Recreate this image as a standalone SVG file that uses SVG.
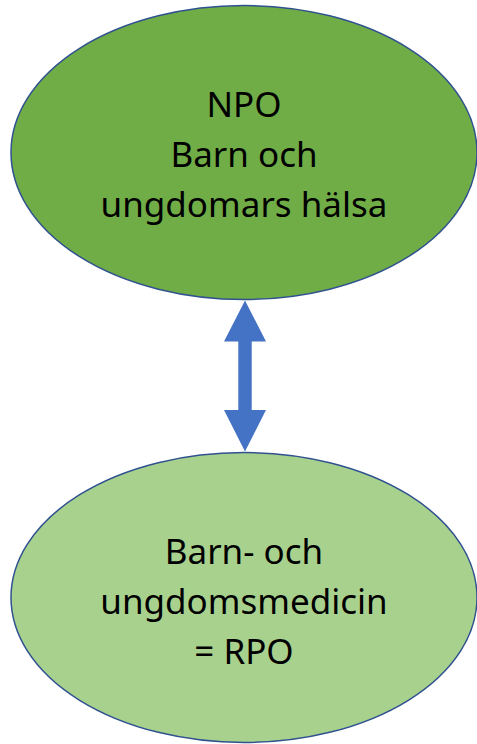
<svg xmlns="http://www.w3.org/2000/svg" width="477" height="744" viewBox="0 0 477 744">
<style>
.node{stroke:#2F528F;stroke-width:1.5}
.lbl{font-family:"Noto Sans","Liberation Sans",sans-serif;font-size:35px;fill:#000;text-anchor:middle}
</style>
<rect width="477" height="744" fill="#fff"/>
<g id="connectors">
<polygon fill="#4472C4" points="245,300.5 266,341.5 251.7,341.5 251.7,410 266,410 245,451.5 224,410 238.3,410 238.3,341.5 224,341.5"/>
</g>
<g id="npo">
<ellipse class="node" cx="244" cy="152.5" rx="233" ry="147" fill="#70AD47"/>
<text class="lbl" x="244" y="116.5">NPO</text>
<text class="lbl" x="244" y="166.5">Barn och</text>
<text class="lbl" x="244" y="216.5">ungdomars hälsa</text>
</g>
<g id="rpo">
<ellipse class="node" cx="244" cy="597.5" rx="233" ry="145" fill="#A9D18E"/>
<text class="lbl" x="244" y="564">Barn- och</text>
<text class="lbl" x="244" y="613.5">ungdomsmedicin</text>
<text class="lbl" x="244" y="664">= RPO</text>
</g>
</svg>
